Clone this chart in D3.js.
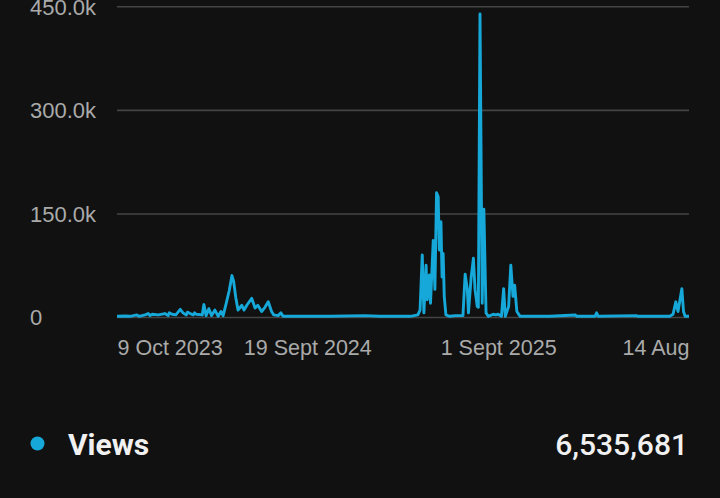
<!DOCTYPE html>
<html>
<head>
<meta charset="utf-8">
<script src="https://cdn.jsdelivr.net/npm/d3@7"></script>
<style>
  html, body { margin: 0; padding: 0; background: #111111; }
  svg { display: block; font-family: Roboto, "Noto Sans", sans-serif; }
</style>
</head>
<body>
<div id="chart"></div>
<script>
// daily views, vertices
const dates = [
  "2023-10-09","2023-10-24","2023-11-02","2023-11-14","2023-11-18","2023-11-29","2023-12-05","2023-12-08",
  "2023-12-12","2023-12-23","2024-01-04","2024-01-10","2024-01-12","2024-01-17","2024-01-24","2024-02-01",
  "2024-02-06","2024-02-12","2024-02-14","2024-02-19","2024-02-25","2024-02-27","2024-03-01","2024-03-12",
  "2024-03-15","2024-03-19","2024-03-24","2024-03-29","2024-04-04","2024-04-10","2024-04-15","2024-04-19",
  "2024-04-24","2024-04-30","2024-05-05","2024-05-08","2024-05-12","2024-05-16","2024-05-23","2024-05-27",
  "2024-06-01","2024-06-10","2024-06-16","2024-06-21","2024-06-28","2024-07-04","2024-07-10","2024-07-16",
  "2024-07-20","2024-07-28","2024-08-02","2024-08-06","2024-09-06","2024-10-30","2025-01-02","2025-01-29",
  "2025-03-25","2025-04-08","2025-04-12","2025-04-16","2025-04-19","2025-04-23","2025-04-25","2025-04-29",
  "2025-05-01","2025-05-06","2025-05-09","2025-05-12","2025-05-15","2025-05-17","2025-05-20","2025-05-22",
  "2025-05-24","2025-05-26","2025-05-29","2025-06-05","2025-06-15","2025-06-29","2025-07-03","2025-07-07",
  "2025-07-09","2025-07-14","2025-07-18","2025-07-21","2025-07-25","2025-07-27","2025-07-30","2025-08-03",
  "2025-08-06","2025-08-10","2025-08-14","2025-08-23","2025-08-28","2025-09-01","2025-09-07","2025-09-11",
  "2025-09-14","2025-09-20","2025-09-24","2025-09-28","2025-10-01","2025-10-05","2025-10-11","2025-12-04",
  "2026-01-19","2026-01-22","2026-02-24","2026-02-27","2026-03-02","2026-05-10","2026-05-13","2026-07-10",
  "2026-07-16","2026-07-21","2026-07-25","2026-08-01","2026-08-04","2026-08-07","2026-08-14"
];
const views = [
  1000,1500,1000,3000,1000,3000,5000,2000,
  4000,3000,5000,2000,6000,4000,3000,11000,
  6000,3000,7000,5000,3000,6000,4000,3000,
  18000,2000,12000,2000,10000,1000,8000,2000,
  18000,38000,60000,52000,28000,10000,17000,10000,
  17000,27000,13000,17000,8000,14000,22000,8000,
  3000,2000,6000,1000,1000,1000,2000,1000,
  1000,3000,10000,90000,6000,75000,25000,61000,
  20000,111000,40000,180000,174000,97000,138000,58000,
  92000,30000,3000,1000,2000,2000,62000,40000,
  6000,58000,85000,40000,15000,14000,439000,20000,
  156000,6000,1000,4000,3000,4000,1000,41000,
  1000,15000,75000,30000,46000,8000,1000,1000,
  3000,1000,1000,6000,1000,2000,1000,1000,
  4000,22000,8000,41000,8000,1000,1000
];

const xTickDates = ["2023-10-09", "2024-09-19", "2025-09-01", "2026-08-14"];
const xTickLabels = ["9 Oct 2023", "19 Sept 2024", "1 Sept 2025", "14 Aug"];
const yTicks = [0, 150000, 300000, 450000];
const yTickLabels = ["0", "150.0k", "300.0k", "450.0k"];

const seriesName = "Views";
const seriesTotal = "6,535,681";

const parse = d3.utcParse("%Y-%m-%d");
const data = dates.map((d, i) => ({date: parse(d), value: views[i]}));

const width = 720;
const height = 498;
const margin = {top: 6.3, right: 31, bottom: 181, left: 117};
const lineColor = "#16a8d8";

const x = d3.scaleUtc()
    .domain([parse(xTickDates[0]), parse(xTickDates[xTickDates.length - 1])])
    .range([margin.left, width - margin.right]);

const y = d3.scaleLinear()
    .domain([0, 450000])
    .range([height - margin.bottom, margin.top]);

const svg = d3.select("#chart")
    .append("svg")
    .attr("width", width)
    .attr("height", height);

// gridlines + y labels
const yAxis = svg.append("g")
    .attr("transform", `translate(${margin.left},0)`)
    .call(d3.axisLeft(y)
        .tickValues(yTicks)
        .tickSize(-(width - margin.left - margin.right))
        .tickFormat((d, i) => yTickLabels[i]));
yAxis.select(".domain").remove();
yAxis.selectAll("line")
    .attr("stroke", "#444444")
    .attr("stroke-width", 1.6);
yAxis.selectAll("text")
    .attr("text-anchor", "start")
    .attr("x", 30 - margin.left)
    .attr("dy", "0.35em")
    .attr("fill", "#aaaaaa")
    .style("font-size", "22px");

// x labels
const xAxis = svg.append("g")
    .attr("transform", `translate(0,${height - margin.bottom})`)
    .call(d3.axisBottom(x)
        .tickValues(xTickDates.map(parse))
        .tickSize(0)
        .tickFormat((d, i) => xTickLabels[i]));
xAxis.select(".domain").remove();
xAxis.selectAll("text")
    .attr("y", 38)
    .attr("dy", 0)
    .attr("fill", "#aaaaaa")
    .style("font-size", "21.5px")
    .attr("text-anchor", (d, i) => i === 0 ? "start" : (i === xTickDates.length - 1 ? "end" : "middle"));

// line
const line = d3.line()
    .x(d => x(d.date))
    .y(d => y(d.value));

svg.append("path")
    .datum(data)
    .attr("fill", "none")
    .attr("stroke", lineColor)
    .attr("stroke-width", 2.9)
    .attr("stroke-linejoin", "round")
    .attr("d", line);

// legend
const legend = svg.append("g");
legend.append("circle")
    .attr("cx", 37.5)
    .attr("cy", 443.5)
    .attr("r", 7)
    .attr("fill", lineColor);
legend.append("text")
    .attr("x", 68)
    .attr("y", 455)
    .attr("fill", "#f1f1f1")
    .style("font-size", "30px")
    .style("font-weight", 700)
    .text(seriesName);
legend.append("text")
    .attr("x", 688)
    .attr("y", 455)
    .attr("text-anchor", "end")
    .attr("fill", "#f1f1f1")
    .style("font-size", "30px")
    .style("font-weight", 500)
    .text(seriesTotal);
</script>
</body>
</html>
